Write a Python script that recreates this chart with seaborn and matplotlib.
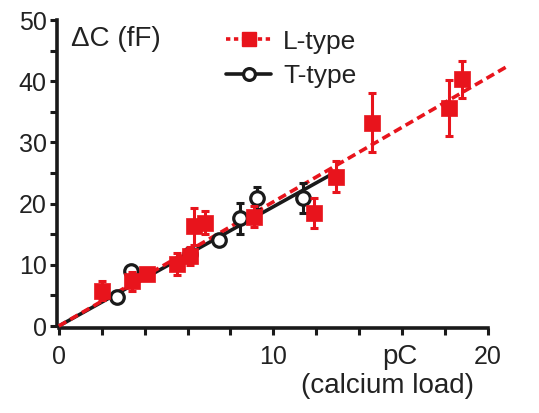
import numpy as np
import pandas as pd
import seaborn as sns
import matplotlib
matplotlib.use('Agg')
import matplotlib.pyplot as plt
from matplotlib.lines import Line2D

# values
l_x = [2.0, 3.4, 4.1, 5.5, 6.1, 6.3, 6.8, 9.1, 11.9, 12.9, 14.6, 18.2, 18.8]
l_y = [5.8, 7.3, 8.5, 10.2, 11.5, 16.3, 16.9, 17.9, 18.5, 24.4, 33.2, 35.6, 40.3]
l_err = [1.5, 1.5, 1.0, 1.8, 1.5, 3.0, 1.9, 1.7, 2.5, 2.5, 4.8, 4.6, 3.0]

t_x = [2.7, 3.35, 6.1, 7.45, 8.45, 9.25, 11.4]
t_y = [4.8, 9.0, 11.8, 14.0, 17.6, 20.9, 20.9]
t_err = [0.6, 0.7, 0.7, 0.7, 2.5, 1.8, 2.4]

# fitted lines (through origin)
l_fit_x = [0, 20.9]
l_slope = 2.03
t_fit_x = [0, 13.0]
t_slope = 1.95

red = '#e8141c'

sns.set_style('ticks')
plt.rcParams['font.family'] = ['Liberation Sans', 'DejaVu Sans']

fig = plt.figure(figsize=(5.39, 4.13), dpi=100)
ax = fig.add_axes([0.105, 0.206, 0.86, 0.750])

t_fit = pd.DataFrame({'x': t_fit_x, 'y': [v * t_slope for v in t_fit_x]})
l_fit = pd.DataFrame({'x': l_fit_x, 'y': [v * l_slope for v in l_fit_x]})
sns.lineplot(data=t_fit, x='x', y='y', color='#1a1a1a', lw=2.6, ax=ax, zorder=2)
sns.lineplot(data=l_fit, x='x', y='y', color=red, lw=2.6, ax=ax, zorder=3,
             linestyle=(0, (2.4, 1.3)))

ax.errorbar(t_x, t_y, yerr=t_err, fmt='none', ecolor='#1a1a1a', elinewidth=2.2,
            capsize=3, capthick=2.2, zorder=4)
sns.scatterplot(x=t_x, y=t_y, marker='o', s=95, facecolor='white',
                edgecolor='#1a1a1a', linewidth=2.3, ax=ax, zorder=5)

ax.errorbar(l_x, l_y, yerr=l_err, fmt='none', ecolor=red, elinewidth=2.2,
            capsize=3, capthick=2.2, zorder=6)
sns.scatterplot(x=l_x, y=l_y, marker='s', s=130, color=red, edgecolor=red,
                linewidth=0.5, ax=ax, zorder=7)

ax.set_xlim(-0.1, 21.5)
ax.set_ylim(-0.3, 50.3)
ax.spines['bottom'].set_bounds(0, 20)
ax.spines['left'].set_bounds(0, 50)
sns.despine(ax=ax)
for s in ['bottom', 'left']:
    ax.spines[s].set_linewidth(2.6)
    ax.spines[s].set_color('#1a1a1a')

ax.set_xticks(np.arange(0, 21, 2), minor=True)
ax.set_xticks([0, 10, 20])
ax.set_yticks(np.arange(0, 51, 5), minor=True)
ax.set_yticks([0, 10, 20, 30, 40, 50])
ax.tick_params(which='both', direction='out', width=2.2, length=5, color='#1a1a1a',
               labelsize=18, labelcolor='#222222')
ax.tick_params(axis='x', pad=7)
ax.tick_params(axis='y', pad=2)
ax.set_xlabel('')
ax.set_ylabel('')

ax.text(0.03, 0.975, '\u0394C (fF)', transform=ax.transAxes, fontsize=20,
        color='#222222', va='top', ha='left')
fig.text(0.742, 0.135, 'pC', fontsize=20, color='#222222', ha='center', va='center')
fig.text(0.718, 0.065, '(calcium load)', fontsize=20, color='#222222',
         ha='center', va='center')

handles = [
    Line2D([], [], color=red, lw=2.6, linestyle=(0, (1.2, 1.0)), marker='s',
           markersize=10, markerfacecolor=red, markeredgecolor=red),
    Line2D([], [], color='#1a1a1a', lw=2.6, marker='o', markersize=8.5,
           markerfacecolor='white', markeredgecolor='#1a1a1a', markeredgewidth=2.3),
]
ax.legend(handles, ['L-type', 'T-type'], loc='upper left', bbox_to_anchor=(0.315, 1.04),
          frameon=False, fontsize=19, handlelength=1.7, handletextpad=0.45,
          labelspacing=0.4, labelcolor='#222222')

fig.savefig('out.png', dpi=100)
